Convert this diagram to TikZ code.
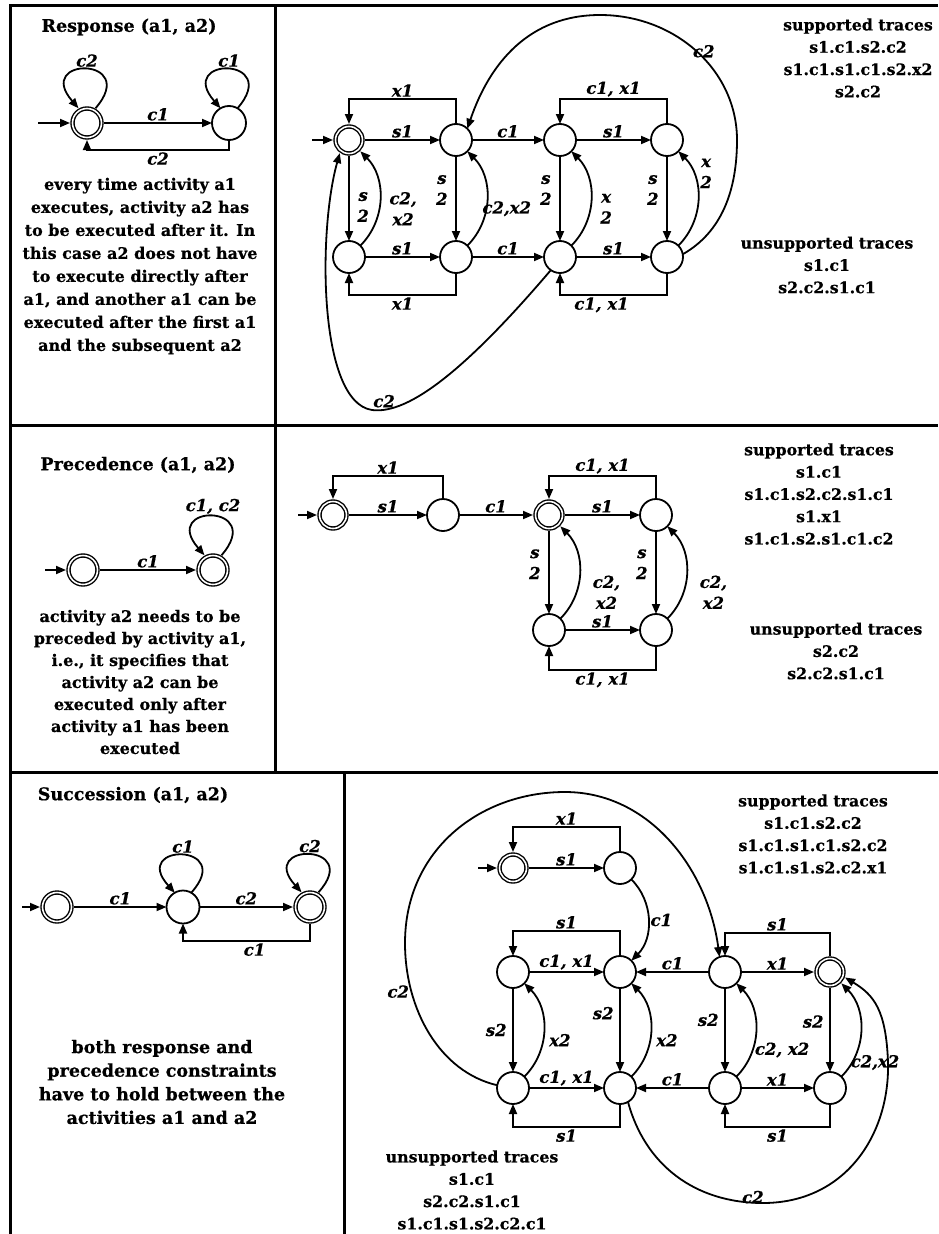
\documentclass[tikz,border=0pt]{standalone}
\usepackage{fontspec}
\setmainfont{DejaVu Serif}[BoldFeatures={FakeBold=0.6},BoldItalicFeatures={FakeBold=0.6}]
\usetikzlibrary{arrows.meta}
\newcommand{\ttlfont}{\fontsize{17.5}{21}\selectfont\bfseries}
\newcommand{\txtfont}{\fontsize{16}{23}\selectfont\bfseries}
\newcommand{\txtfontb}{\fontsize{16}{22}\selectfont\bfseries}
\newcommand{\txtfontc}{\fontsize{17.5}{23.6}\selectfont\bfseries}
\newcommand{\trfont}{\fontsize{15.8}{22.3}\selectfont\bfseries}
\newcommand{\lblfont}{\fontsize{16.5}{21}\selectfont\bfseries\itshape}
\begin{document}
\begin{tikzpicture}[x=1pt,y=-1pt,
  >={Triangle[length=10pt,width=8pt]},
  st/.style={circle,draw,line width=1.8pt,minimum size=32pt,inner sep=0pt,outer sep=0pt},
  bigst/.style={st,minimum size=34pt},
  acc/.style={double,double distance=1.6pt,line width=1.4pt,minimum size=27pt,outer sep=2.5pt},
  bigacc/.style={acc,minimum size=29pt},
  arr/.style={->,line width=1.8pt},
  lab/.style={font=\lblfont,inner sep=1.5pt},
  ttl/.style={font=\ttlfont,inner sep=0pt},
  txt/.style={font=\txtfont,align=center,inner sep=0pt},
  trc/.style={font=\trfont,align=center,inner sep=0pt},
  rule/.style={line width=3pt}
]
\useasboundingbox (0,0) rectangle (938,1234);
% ---------------- table rules
\draw[rule] (10,1234) -- (10,5) -- (938,5);
\draw[rule] (10,425) -- (938,425);
\draw[rule] (10,772) -- (938,772);
\draw[rule] (275,5) -- (275,772);
\draw[rule] (344,772) -- (344,1234);

% ================= ROW 1 LEFT: Response
\node[ttl] (t1) at (129,27) {Response (a1, a2)};
\node[bigst,bigacc] (a1) at (87,123) {};
\node[bigst] (a2) at (229,123) {};
\coordinate (a1i) at (38,123);
\draw[arr] (a1i) -- (a1);
\draw[arr] (a1) -- node[lab,above]{c1} (a2);
\draw[arr] (a2.south) -- ++(0,10) -| node[lab,below,pos=0.25]{c2} (a1.south);
\draw[arr] (a1.60) .. controls +(45,-52) and +(-45,-52) .. node[lab,above]{c2} (a1.120);
\draw[arr] (a2.60) .. controls +(45,-52) and +(-45,-52) .. node[lab,above]{c1} (a2.120);
\node[txt] (d1) at (140,266) {every time activity a1\\executes, activity a2 has\\to be executed after it. In\\this case a2 does not have\\to execute directly after\\a1, and another a1 can be\\executed after the first a1\\and the subsequent a2};

% ================= ROW 1 RIGHT
\node[st,acc] (r1) at (349,140) {};
\node[st] (r2) at (456,140) {};
\node[st] (r3) at (560,140) {};
\node[st] (r4) at (667,140) {};
\node[st] (r5) at (349,257) {};
\node[st] (r6) at (456,257) {};
\node[st] (r7) at (560,257) {};
\node[st] (r8) at (667,257) {};
\coordinate (r1i) at (312,140);
\draw[arr] (r1i) -- (r1);
\draw[arr] (r1) -- node[lab,above]{s1} (r2);
\draw[arr] (r2) -- node[lab,above]{c1} (r3);
\draw[arr] (r3) -- node[lab,above]{s1} (r4);
\draw[arr] (r5) -- node[lab,above]{s1} (r6);
\draw[arr] (r6) -- node[lab,above]{c1} (r7);
\draw[arr] (r7) -- node[lab,above]{s1} (r8);
\draw[arr] (r2.north) -- ++(0,-25) -| node[lab,above,pos=0.25]{x1} (r1.north);
\draw[arr] (r4.north) -- ++(0,-25) -| node[lab,above,pos=0.25]{c1, x1} (r3.north);
\draw[arr] (r6.south) -- ++(0,22) -| node[lab,below,pos=0.25]{x1} (r5.south);
\draw[arr] (r8.south) -- ++(0,22) -| node[lab,below,pos=0.25,xshift=-12]{c1, x1} (r7.south);
\draw[arr] (r1) -- node[lab,right,align=center,pos=0.6,xshift=6]{s\\2} (r5);
\draw[arr] (r2) -- node[lab,left,align=center,pos=0.4,xshift=-6]{s\\2} (r6);
\draw[arr] (r3) -- node[lab,left,align=center,pos=0.4,xshift=-6]{s\\2} (r7);
\draw[arr] (r4) -- node[lab,left,align=center,pos=0.4,xshift=-6]{s\\2} (r8);
\draw[arr] (r5) to[bend right=45] node[lab,right,align=center,pos=0.4,xshift=8]{c2,\\x2} (r1);
\draw[arr] (r6) to[bend right=45] node[lab,right,pos=0.4,xshift=-6]{c2,x2} (r2);
\draw[arr] (r7) to[bend right=45] node[lab,right,align=center,pos=0.4,xshift=8]{x\\2} (r3);
\draw[arr] (r8) to[bend right=45] node[lab,right,align=center,pos=0.75,xshift=5]{x\\2} (r4);
\draw[arr] (r8.10) .. controls (722,232) and (737,190) .. (737,140)
  .. controls (737,70) and (675,15) .. node[lab,pos=0.5,right,xshift=-6]{c2} (600,15)
  .. controls (530,15) and (490,62) .. (r2.45);
\draw[arr] (r7.235) .. controls (470,365) and (410,415) .. node[lab,pos=0.9,above]{c2} (372,410)
  .. controls (318,402) and (318,230) .. (r1.235);
\node[trc] (sup1) at (858,58) {supported traces\\s1.c1.s2.c2\\s1.c1.s1.c1.s2.x2\\s2.c2};
\node[trc] (uns1) at (827,265) {unsupported traces\\s1.c1\\s2.c2.s1.c1};

% ================= ROW 2 LEFT: Precedence
\node[ttl] (t2) at (138,465) {Precedence (a1, a2)};
\node[bigst,bigacc] (b1) at (83,570) {};
\node[bigst,bigacc] (b2) at (213,570) {};
\coordinate (b1i) at (45,570);
\draw[arr] (b1i) -- (b1);
\draw[arr] (b1) -- node[lab,above]{c1} (b2);
\draw[arr] (b2.60) .. controls +(45,-52) and +(-45,-52) .. node[lab,above]{c1, c2} (b2.120);
\node[txt,font=\txtfontb] (d2) at (140,682) {activity a2 needs to be\\preceded by activity a1,\\i.e., it specifies that\\activity a2 can be\\executed only after\\activity a1 has been\\executed};

% ================= ROW 2 RIGHT
\node[st,acc] (p1) at (333,515) {};
\node[st] (p2) at (443,515) {};
\node[st,acc] (p3) at (549,515) {};
\node[st] (p4) at (656,515) {};
\node[st] (p5) at (549,630) {};
\node[st] (p6) at (656,630) {};
\coordinate (p1i) at (298,515);
\draw[arr] (p1i) -- (p1);
\draw[arr] (p1) -- node[lab,above]{s1} (p2);
\draw[arr] (p2) -- node[lab,above]{c1} (p3);
\draw[arr] (p3) -- node[lab,above]{s1} (p4);
\draw[arr] (p5) -- node[lab,above]{s1} (p6);
\draw[arr] (p2.north) -- ++(0,-23) -| node[lab,above,pos=0.25]{x1} (p1.north);
\draw[arr] (p4.north) -- ++(0,-23) -| node[lab,above,pos=0.25]{c1, x1} (p3.north);
\draw[arr] (p6.south) -- ++(0,24) -| node[lab,below,pos=0.25]{c1, x1} (p5.south);
\draw[arr] (p3) -- node[lab,left,align=center,pos=0.4,xshift=-6]{s\\2} (p5);
\draw[arr] (p4) -- node[lab,left,align=center,pos=0.4,xshift=-6]{s\\2} (p6);
\draw[arr] (p5) to[bend right=45] node[lab,right,align=center,pos=0.3,xshift=14]{c2,\\x2} (p3);
\draw[arr] (p6) to[bend right=45] node[lab,right,align=center,pos=0.3,xshift=14]{c2,\\x2} (p4);
\node[trc] (sup2) at (819,494) {supported traces\\s1.c1\\s1.c1.s2.c2.s1.c1\\s1.x1\\s1.c1.s2.s1.c1.c2};
\node[trc] (uns2) at (836,651) {unsupported traces\\s2.c2\\s2.c2.s1.c1};

% ================= ROW 3 LEFT: Succession
\node[ttl] (t3) at (133,795) {Succession (a1, a2)};
\node[st,acc,minimum size=29pt] (e1) at (57,907) {};
\node[st,minimum size=33pt] (e2) at (183,907) {};
\node[st,acc,minimum size=29pt] (e3) at (310,907) {};
\coordinate (e1i) at (22,907);
\draw[arr] (e1i) -- (e1);
\draw[arr] (e1) -- node[lab,above]{c1} (e2);
\draw[arr] (e2) -- node[lab,above]{c2} (e3);
\draw[arr] (e3.south) -- ++(0,17) -| node[lab,below,pos=0.25,xshift=8]{c1} (e2.south);
\draw[arr] (e2.60) .. controls +(45,-50) and +(-45,-50) .. node[lab,above]{c1} (e2.120);
\draw[arr] (e3.60) .. controls +(45,-50) and +(-45,-50) .. node[lab,above]{c2} (e3.120);
\node[txt,font=\txtfontc] (d3) at (162,1082) {both response and\\precedence constraints\\have to hold between the\\activities a1 and a2};

% ================= ROW 3 RIGHT
\node[st,acc] (q1) at (513,868) {};
\node[st] (q2) at (620,868) {};
\node[st] (q3) at (513,972) {};
\node[st] (q4) at (620,972) {};
\node[st] (q7) at (725,972) {};
\node[st,acc] (q8) at (830,972) {};
\node[st] (q5) at (513,1088) {};
\node[st] (q6) at (620,1088) {};
\node[st] (q9) at (725,1088) {};
\node[st] (q10) at (830,1088) {};
\coordinate (q1i) at (478,868);
\draw[arr] (q1i) -- (q1);
\draw[arr] (q1) -- node[lab,above]{s1} (q2);
\draw[arr] (q2.north) -- ++(0,-25) -| node[lab,above,pos=0.25]{x1} (q1.north);
\draw[arr] (q2) to[bend left=45] node[lab,right]{c1} (q4);
\draw[arr] (q3) -- node[lab,above]{c1, x1} (q4);
\draw[arr] (q4.north) -- ++(0,-25) -| node[lab,above,pos=0.25]{s1} (q3.north);
\draw[arr] (q3) -- node[lab,left,xshift=-4]{s2} (q5);
\draw[arr] (q5) to[bend right=45] node[lab,right,pos=0.4,xshift=4]{x2} (q3);
\draw[arr] (q4) -- node[lab,left,pos=0.3,xshift=-4]{s2} (q6);
\draw[arr] (q6) to[bend right=45] node[lab,right,pos=0.4,xshift=4]{x2} (q4);
\draw[arr] (q5) -- node[lab,above]{c1, x1} (q6);
\draw[arr] (q6.south) -- ++(0,23) -| node[lab,below,pos=0.25]{s1} (q5.south);
\draw[arr] (q7) -- node[lab,above]{c1} (q4);
\draw[arr] (q7) -- node[lab,above]{x1} (q8);
\draw[arr] (q8.north) -- ++(0,-23) -| node[lab,above,pos=0.25]{s1} (q7.north);
\draw[arr] (q7) -- node[lab,left,pos=0.38,xshift=-4]{s2} (q9);
\draw[arr] (q9) to[bend right=45] node[lab,right,pos=0.3,xshift=0]{c2, x2} (q7);
\draw[arr] (q8) -- node[lab,left,pos=0.4,xshift=-4]{s2} (q10);
\draw[arr] (q10) to[bend right=45] node[lab,right,pos=0.1,yshift=6]{c2,x2} (q8);
\draw[arr] (q9) -- node[lab,above]{c1} (q6);
\draw[arr] (q9) -- node[lab,above]{x1} (q10);
\draw[arr] (q10.south) -- ++(0,23) -| node[lab,below,pos=0.25]{s1} (q9.south);
\draw[arr] (q5.170) .. controls (440,1072) and (405,1010) .. node[lab,pos=0.75,left]{c2} (405,943)
  .. controls (405,850) and (480,792) .. (565,792)
  .. controls (650,792) and (708,870) .. (q7.110);
\draw[arr] (q6.300) .. controls (645,1165) and (695,1203) .. node[lab,pos=0.95,above,yshift=-3]{c2} (763,1203)
  .. controls (845,1203) and (890,1135) .. (888,1062)
  .. controls (886,1010) and (874,995) .. (q8.-20);
\node[trc] (sup3) at (813,834) {supported traces\\s1.c1.s2.c2\\s1.c1.s1.c1.s2.c2\\s1.c1.s1.s2.c2.x1};
\node[trc] (uns3) at (472,1190) {unsupported traces\\s1.c1\\s2.c2.s1.c1\\s1.c1.s1.s2.c2.c1};
\end{tikzpicture}
\end{document}
